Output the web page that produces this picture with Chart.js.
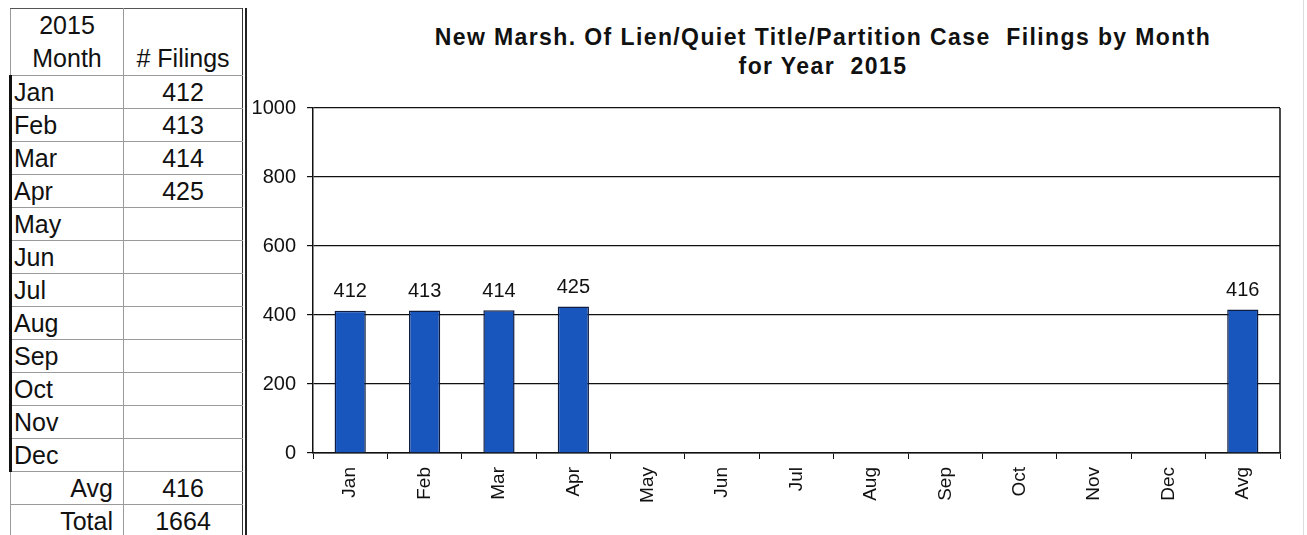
<!DOCTYPE html>
<html>
<head>
<meta charset="utf-8">
<script src="https://cdn.jsdelivr.net/npm/chart.js@4.4.1/dist/chart.umd.min.js"></script>
<style>
    html, body { margin: 0; padding: 0; background: #fff; }
    body { width: 1307px; height: 535px; position: relative; overflow: hidden; font-family: "Liberation Sans", Arial, sans-serif; color: #111; }
    #filingsTable { position: absolute; left: 9px; top: 8px; border-collapse: collapse; table-layout: fixed; font-size: 25px; }
    #filingsTable td { border: 1px solid #9a9a9a; padding: 0; height: 32px; line-height: 32px; white-space: nowrap; overflow: visible; }
    #filingsTable tr.head td { height: 66px; line-height: 33px; vertical-align: bottom; text-align: center; border-top: 1px solid #555; }
    #filingsTable td.month { padding-left: 2px; }
    #filingsTable tr.m td.month { border-left: 3px solid #111; }
    #filingsTable td.num { text-align: center; border-right: 1px solid #333; }
    #filingsTable td.sum { text-align: right; padding-right: 10px; }
    #sep { position: absolute; left: 245px; top: 8px; width: 0; height: 535px; border-left: 2px solid #222; }
    #edge { position: absolute; left: 1303px; top: 0; width: 0; height: 535px; border-left: 1px solid #ddd; }
    #chartBox { position: absolute; left: 246px; top: 0; width: 1061px; height: 535px; }
    #chartTitle { position: absolute; left: 246px; width: 1154px; top: 23px; text-align: center; font-weight: bold; font-size: 23px; line-height: 29px; color: #111; letter-spacing: 1.4px; }
</style>
</head>
<body>
<table id="filingsTable"></table>
<div id="sep"></div>
<div id="edge"></div>
<div id="chartTitle">New Marsh. Of Lien/Quiet Title/Partition Case&nbsp; Filings by Month<br>for Year&nbsp; 2015</div>
<div id="chartBox"><canvas id="filingsChart"></canvas></div>
<script>
    const year = 2015;
    const months = ['Jan', 'Feb', 'Mar', 'Apr', 'May', 'Jun', 'Jul', 'Aug', 'Sep', 'Oct', 'Nov', 'Dec'];
    const filings = [412, 413, 414, 425, null, null, null, null, null, null, null, null];
    const avgFilings = 416;
    const totalFilings = 1664;
    const yTicks = [0, 200, 400, 600, 800, 1000];

    // left-hand table
    const table = document.getElementById('filingsTable');
    let rows = '<colgroup><col style="width:113px"><col style="width:119px"></colgroup>';
    rows += `<tr class="head"><td>${year}<br>Month</td><td class="num"># Filings</td></tr>`;
    months.forEach(function (m, i) {
        rows += `<tr class="m"><td class="month">${m}</td><td class="num">${filings[i] === null ? '' : filings[i]}</td></tr>`;
    });
    rows += `<tr><td class="sum">Avg</td><td class="num">${avgFilings}</td></tr>`;
    rows += `<tr><td class="sum">Total</td><td class="num">${totalFilings}</td></tr>`;
    table.innerHTML = rows;

    const labels = months.concat(['Avg']);
    const values = filings.concat([avgFilings]);

    const valueLabels = {
        id: 'valueLabels',
        afterDatasetsDraw(chart) {
            const ctx = chart.ctx;
            const meta = chart.getDatasetMeta(0);
            ctx.save();
            ctx.font = '20px "Liberation Sans", Arial, sans-serif';
            ctx.fillStyle = '#111';
            ctx.textAlign = 'center';
            ctx.textBaseline = 'bottom';
            meta.data.forEach(function (bar, i) {
                if (values[i] === null) return;
                ctx.fillText(values[i], bar.x, bar.y - 9);
            });
            ctx.restore();
        }
    };

    const rightFrame = {
        id: 'rightFrame',
        afterDraw(chart) {
            const a = chart.chartArea;
            const ctx = chart.ctx;
            ctx.save();
            ctx.strokeStyle = '#111';
            ctx.lineWidth = 1.5;
            ctx.beginPath();
            ctx.moveTo(a.right, a.top);
            ctx.lineTo(a.right, a.bottom);
            ctx.stroke();
            ctx.restore();
        }
    };

    const ctx = document.getElementById('filingsChart').getContext('2d');
    new Chart(ctx, {
        type: 'bar',
        data: {
            labels: labels,
            datasets: [{
                label: '# Filings',
                data: values,
                backgroundColor: '#1856bd',
                borderColor: '#0e1d40',
                borderWidth: 1.5,
                categoryPercentage: 1,
                barPercentage: 0.42
            }]
        },
        options: {
            responsive: true,
            maintainAspectRatio: false,
            animation: false,
            layout: { padding: { top: 108, right: 27, left: 0, bottom: 0 } },
            plugins: {
                legend: { display: false },
                tooltip: { enabled: false }
            },
            scales: {
                y: {
                    min: 0,
                    max: 1000,
                    afterBuildTicks: function (scale) {
                        scale.ticks = yTicks.map(v => ({ value: v }));
                    },
                    afterFit: function (scale) { scale.width = 67; },
                    grid: { color: '#111', lineWidth: 1.2, tickLength: 6 },
                    border: { display: true, color: '#111', width: 1.5 },
                    ticks: {
                        color: '#111',
                        padding: 11,
                        callback: function (value) { return String(value); },
                        font: { family: '"Liberation Sans", Arial, sans-serif', size: 20 }
                    }
                },
                x: {
                    afterFit: function (scale) { scale.height = 82; },
                    grid: { display: true, drawOnChartArea: false, drawTicks: true, tickLength: 6, color: '#111', offset: true },
                    border: { display: true, color: '#111', width: 1.5 },
                    ticks: {
                        color: '#111',
                        autoSkip: false,
                        minRotation: 90,
                        maxRotation: 90,
                        padding: 8,
                        font: { family: '"Liberation Sans", Arial, sans-serif', size: 19 }
                    }
                }
            }
        },
        plugins: [valueLabels, rightFrame]
    });
</script>
</body>
</html>
